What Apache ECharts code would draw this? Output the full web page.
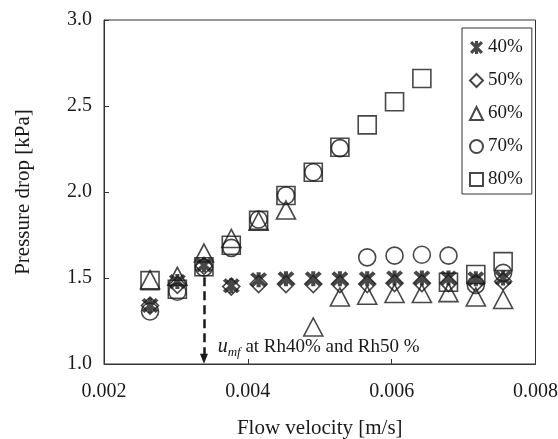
<!DOCTYPE html>
<html>
<head>
<meta charset="utf-8">
<script src="https://cdn.jsdelivr.net/npm/echarts@6/dist/echarts.min.js"></script>
<style>
  html, body { margin: 0; padding: 0; background: #fff; }
  #chart { width: 558px; height: 439px; }
</style>
</head>
<body>
<div id="chart"></div>
<script>
// Flow velocity [m/s] at each measurement step
const flowVelocity = [0.00264, 0.00302, 0.00339, 0.00377, 0.00415, 0.00453, 0.00491,
                      0.00528, 0.00566, 0.00604, 0.00642, 0.00679, 0.00717, 0.00755];

// Pressure drop [kPa] per relative humidity
const rh40 = [1.34, 1.48, 1.575, 1.455, 1.49, 1.495, 1.495, 1.495, 1.495, 1.50, 1.50, 1.50, 1.495, 1.50];
const rh50 = [1.34, 1.46, 1.57, 1.45, 1.465, 1.465, 1.465, 1.465, 1.465, 1.47, 1.47, 1.47, 1.47, 1.48];
const rh60 = [1.49, 1.51, 1.645, 1.73, 1.83, 1.895, 1.215, 1.39, 1.40, 1.41, 1.41, 1.415, 1.39, 1.375];
const rh70 = [1.305, 1.42, 1.56, 1.675, 1.84, 1.98, 2.115, 2.255, 1.62, 1.63, 1.635, 1.63, 1.46, 1.53];
const rh80 = [1.485, 1.435, 1.565, 1.69, 1.835, 1.98, 2.115, 2.26, 2.39, 2.525, 2.66, 1.475, 1.52, 1.595];

const seriesNames = ['40%', '50%', '60%', '70%', '80%'];

// Minimum fluidization velocity marker (arrow from the curve down to the axis)
const umfVelocity = 0.00339;
const umfArrowFrom = 1.505;
const umfArrowTo = 1.03;
const umfLabelAt = [0.00358, 1.098];

const xTicks = { min: 0.002, max: 0.008, interval: 0.002 };
const yTicks = { min: 1.0, max: 3.0, interval: 0.5 };

const serif = 'Liberation Serif, Times New Roman, serif';
const ink = '#1a1a1a';

// Heavy asterisk: a vertical bar crossed by two diagonal bars
const asterisk = 'path://M7.6 0H12.4V20H7.6Z' +
  'M3.4 0L20 16.6L16.6 20L0 3.4Z' +
  'M16.6 0L20 3.4L3.4 20L0 16.6Z';

function pairs(ys) {
  return flowVelocity.map((x, i) => [x, ys[i]]);
}

const hollow = { color: 'rgba(0,0,0,0)', borderColor: ink, borderWidth: 1.6 };

const chart = echarts.init(document.getElementById('chart'), null, { renderer: 'canvas' });

chart.setOption({
  animation: false,
  backgroundColor: '#fff',
  grid: {
    left: 104, right: 22.5, top: 20, bottom: 75,
    containLabel: false, outerBoundsMode: 'none',
    show: true, borderColor: '#333', borderWidth: 1, backgroundColor: 'transparent'
  },
  legend: {
    orient: 'vertical',
    left: 462, top: 28,
    padding: [10, 9, 5, 7],
    itemWidth: 13, itemHeight: 13,
    itemGap: 14,
    borderColor: '#333', borderWidth: 1,
    textStyle: { fontFamily: serif, fontSize: 19, color: ink },
    data: seriesNames
  },
  xAxis: {
    type: 'value',
    min: xTicks.min, max: xTicks.max, interval: xTicks.interval,
    name: 'Flow velocity [m/s]',
    nameLocation: 'middle', nameGap: 54,
    nameTextStyle: { fontFamily: serif, fontSize: 21, color: ink },
    axisLine: { show: true, lineStyle: { color: '#333', width: 1 } },
    axisTick: { show: true, inside: true, length: 5, lineStyle: { color: '#333' } },
    axisLabel: {
      fontFamily: serif, fontSize: 20, color: ink, margin: 18,
      formatter: v => v.toFixed(3)
    },
    splitLine: { show: false }
  },
  yAxis: {
    type: 'value',
    min: yTicks.min, max: yTicks.max, interval: yTicks.interval,
    name: 'Pressure drop [kPa]',
    nameLocation: 'middle', nameGap: 70,
    nameTextStyle: { fontFamily: serif, fontSize: 21, color: ink },
    axisLine: { show: true, lineStyle: { color: '#333', width: 1 } },
    axisTick: { show: true, inside: true, length: 5, lineStyle: { color: '#333' } },
    axisLabel: {
      fontFamily: serif, fontSize: 20, color: ink, margin: 12,
      formatter: v => v.toFixed(1)
    },
    splitLine: { show: false }
  },
  series: [
    {
      name: '80%', type: 'scatter', data: pairs(rh80),
      symbol: 'rect', symbolSize: 18, itemStyle: hollow, z: 2
    },
    {
      name: '70%', type: 'scatter', data: pairs(rh70),
      symbol: 'circle', symbolSize: 17, itemStyle: hollow, z: 2
    },
    {
      name: '60%', type: 'scatter', data: pairs(rh60),
      symbol: 'triangle', symbolSize: [19, 18], itemStyle: hollow, z: 2
    },
    {
      name: '50%', type: 'scatter', data: pairs(rh50),
      symbol: 'diamond', symbolSize: [17, 17], itemStyle: hollow, z: 3
    },
    {
      name: '40%', type: 'scatter', data: pairs(rh40),
      symbol: asterisk, symbolSize: [17, 15], symbolKeepAspect: false,
      itemStyle: { color: ink, borderWidth: 0 }, z: 4,
      markLine: {
        silent: true,
        symbol: ['none', 'triangle'],
        symbolSize: [8, 10],
        lineStyle: { type: [9, 5], width: 2.5, color: ink },
        label: { show: false },
        emphasis: { disabled: true },
        data: [[
          { coord: [umfVelocity, umfArrowFrom] },
          { coord: [umfVelocity, umfArrowTo] }
        ]]
      },
      markPoint: {
        silent: true,
        symbol: 'circle', symbolSize: 0,
        label: {
          show: true, position: 'right', distance: 0,
          formatter: '{u|u}{s|mf}{t| at Rh40% and Rh50 %}',
          rich: {
            u: { fontFamily: serif, fontSize: 20, fontStyle: 'italic', color: ink, lineHeight: 24, verticalAlign: 'middle' },
            s: { fontFamily: serif, fontSize: 13, fontStyle: 'italic', color: ink, lineHeight: 24, verticalAlign: 'bottom' },
            t: { fontFamily: serif, fontSize: 19, color: ink, lineHeight: 24, verticalAlign: 'middle' }
          }
        },
        data: [{ coord: umfLabelAt }]
      }
    }
  ]
});
</script>
</body>
</html>
